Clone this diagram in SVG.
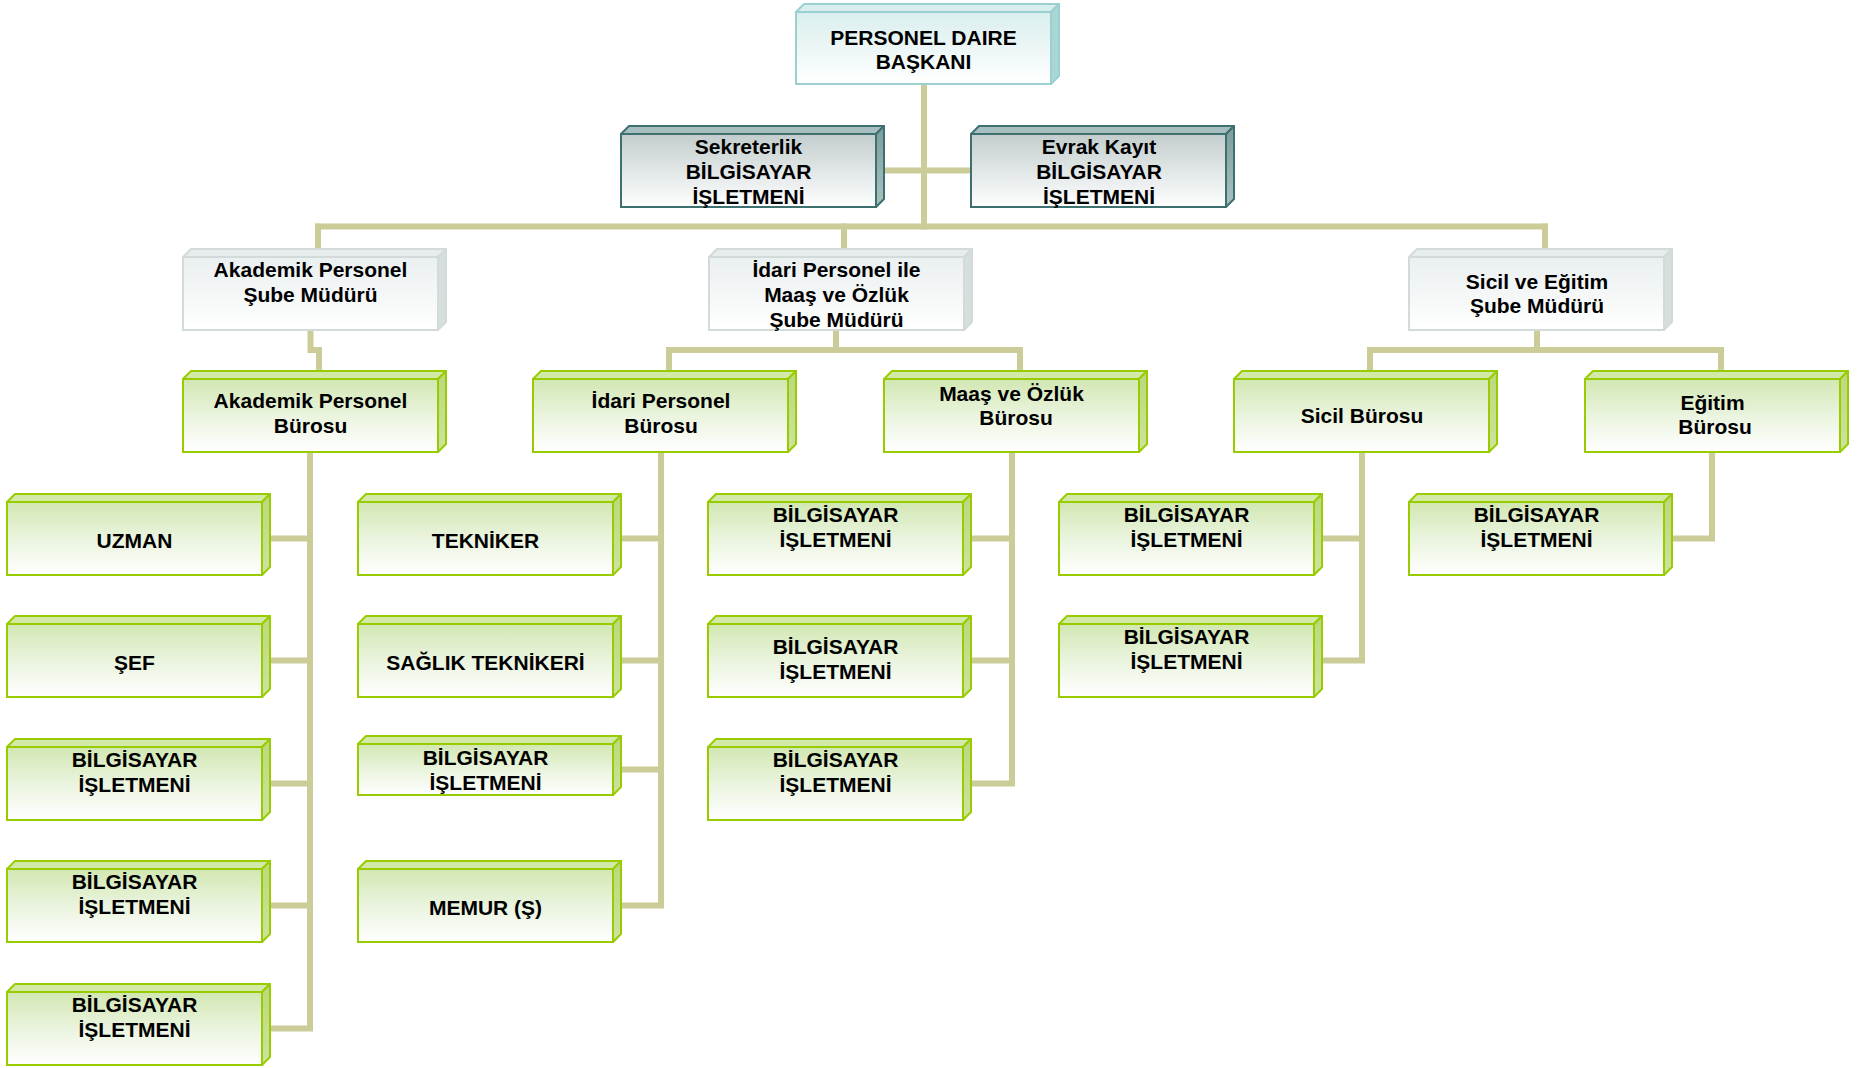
<svg xmlns="http://www.w3.org/2000/svg" xmlns:xlink="http://www.w3.org/1999/xlink" width="1862" height="1068" viewBox="0 0 1862 1068">
<style>
.c{fill:none;stroke:#CCCC99;stroke-width:6;stroke-linecap:square;stroke-linejoin:miter}
.t{font-family:"Liberation Sans",Arial,sans-serif;font-weight:bold;font-size:21px;text-anchor:middle;fill:#000}
.gf{fill:url(#gradGreen);stroke:#99CC00;stroke-width:2}
.gt{fill:#D3E9A8;stroke:#99CC00;stroke-width:2;stroke-linejoin:round}
.gs{fill:url(#gradGreenSide);stroke:#99CC00;stroke-width:2;stroke-linejoin:round}
.tf{fill:url(#gradTeal);stroke:#9CCFCF;stroke-width:2}
.tt{fill:#D8EEEE;stroke:#9CCFCF;stroke-width:2;stroke-linejoin:round}
.ts{fill:#AAD6D6;stroke:#9CCFCF;stroke-width:2;stroke-linejoin:round}
.df{fill:url(#gradDark);stroke:#3F7070;stroke-width:2}
.dt{fill:#A7BEBE;stroke:#3F7070;stroke-width:2;stroke-linejoin:round}
.ds{fill:url(#gradDarkSide);stroke:#3F7070;stroke-width:2;stroke-linejoin:round}
.sf{fill:url(#gradGrey);stroke:#D2DADA;stroke-width:2}
.st{fill:#E7ECEC;stroke:#D2DADA;stroke-width:2;stroke-linejoin:round}
.ss{fill:#D6DEDE;stroke:#D2DADA;stroke-width:2;stroke-linejoin:round}
</style>
<defs>
<linearGradient id="gradGreen" x1="0" y1="0" x2="0" y2="1">
<stop offset="0" stop-color="#D2E7B2"/><stop offset="0.5" stop-color="#EAF4DE"/><stop offset="1" stop-color="#FFFFFF"/>
</linearGradient>
<linearGradient id="gradGreenSide" x1="0" y1="0" x2="0" y2="1">
<stop offset="0" stop-color="#BBD87C"/><stop offset="1" stop-color="#CDE3A0"/>
</linearGradient>
<linearGradient id="gradTeal" x1="0" y1="0" x2="0" y2="1">
<stop offset="0" stop-color="#DAEEEE"/><stop offset="1" stop-color="#FFFFFF"/>
</linearGradient>
<linearGradient id="gradDark" x1="0" y1="0" x2="0" y2="1">
<stop offset="0" stop-color="#C3CDCD"/><stop offset="1" stop-color="#FFFFFF"/>
</linearGradient>
<linearGradient id="gradDarkSide" x1="0" y1="0" x2="0" y2="1">
<stop offset="0" stop-color="#7C9C9C"/><stop offset="1" stop-color="#A9C2C2"/>
</linearGradient>
<linearGradient id="gradGrey" x1="0" y1="0" x2="0" y2="1">
<stop offset="0" stop-color="#EAEFEF"/><stop offset="1" stop-color="#FFFFFF"/>
</linearGradient>
<g id="boxGreen">
<polygon class="gt" points="0,0 8,-8 263,-8 255,0"/>
<polygon class="gs" points="255,0 263,-8 263,65 255,73"/>
<rect class="gf" x="0" y="0" width="255" height="73"/>
</g>
<g id="boxGreenShort">
<polygon class="gt" points="0,0 8,-8 263,-8 255,0"/>
<polygon class="gs" points="255,0 263,-8 263,43 255,51"/>
<rect class="gf" x="0" y="0" width="255" height="51"/>
</g>
<g id="boxTeal">
<polygon class="tt" points="0,0 8,-8 263,-8 255,0"/>
<polygon class="ts" points="255,0 263,-8 263,64 255,72"/>
<rect class="tf" x="0" y="0" width="255" height="72"/>
</g>
<g id="boxDark">
<polygon class="dt" points="0,0 8,-8 263,-8 255,0"/>
<polygon class="ds" points="255,0 263,-8 263,65 255,73"/>
<rect class="df" x="0" y="0" width="255" height="73"/>
</g>
<g id="boxGrey">
<polygon class="st" points="0,0 8,-8 263,-8 255,0"/>
<polygon class="ss" points="255,0 263,-8 263,65 255,73"/>
<rect class="sf" x="0" y="0" width="255" height="73"/>
</g>
</defs>
<rect x="0" y="0" width="1862" height="1068" fill="#FFFFFF"/>
<g id="connectors">
<path class="c" d="M924,84 V226.5"/>
<path class="c" d="M876,170.5 H971"/>
<path class="c" d="M318,226.5 H1545"/>
<path class="c" d="M318,226.5 V249"/>
<path class="c" d="M844,226.5 V249"/>
<path class="c" d="M1545,226.5 V249"/>
<path class="c" d="M310.5,330 V350 H319 V371"/>
<path class="c" d="M836,330 V350"/>
<path class="c" d="M669,371 V350 H1020 V371"/>
<path class="c" d="M1537,330 V350"/>
<path class="c" d="M1370,371 V350 H1721 V371"/>
<path class="c" d="M310,452 V1028.5 H262"/>
<path class="c" d="M262,538.5 H310 M262,660.5 H310 M262,783.5 H310 M262,905.5 H310"/>
<path class="c" d="M661,452 V905.5 H613"/>
<path class="c" d="M613,538.5 H661 M613,660.5 H661 M613,769.5 H661"/>
<path class="c" d="M1012,452 V783.5 H963"/>
<path class="c" d="M963,538.5 H1012 M963,660.5 H1012"/>
<path class="c" d="M1362,452 V660.5 H1314"/>
<path class="c" d="M1314,538.5 H1362"/>
<path class="c" d="M1712,452 V538.5 H1664"/>
</g>
<g id="n-baskan"><use xlink:href="#boxTeal" x="796" y="12"/><text class="t" x="923.5" y="45">PERSONEL DAIRE</text><text class="t" x="923.5" y="69">BAŞKANI</text></g>
<g id="n-sekreterlik"><use xlink:href="#boxDark" x="621" y="134"/><text class="t" x="748.5" y="154">Sekreterlik</text><text class="t" x="748.5" y="179">BİLGİSAYAR</text><text class="t" x="748.5" y="204">İŞLETMENİ</text></g>
<g id="n-evrak"><use xlink:href="#boxDark" x="971" y="134"/><text class="t" x="1099" y="154">Evrak Kayıt</text><text class="t" x="1099" y="179">BİLGİSAYAR</text><text class="t" x="1099" y="204">İŞLETMENİ</text></g>
<g id="n-akad-sube"><use xlink:href="#boxGrey" x="183" y="257"/><text class="t" x="310.5" y="277">Akademik Personel</text><text class="t" x="310.5" y="302">Şube Müdürü</text></g>
<g id="n-idari-sube"><use xlink:href="#boxGrey" x="709" y="257"/><text class="t" x="836.5" y="277">İdari Personel ile</text><text class="t" x="836.5" y="302">Maaş ve Özlük</text><text class="t" x="836.5" y="327">Şube Müdürü</text></g>
<g id="n-sicil-sube"><use xlink:href="#boxGrey" x="1409" y="257"/><text class="t" x="1537" y="289">Sicil ve Eğitim</text><text class="t" x="1537" y="313">Şube Müdürü</text></g>
<g id="n-akad-buro"><use xlink:href="#boxGreen" x="183" y="379"/><text class="t" x="310.5" y="408">Akademik Personel</text><text class="t" x="310.5" y="433">Bürosu</text></g>
<g id="n-idari-buro"><use xlink:href="#boxGreen" x="533" y="379"/><text class="t" x="661" y="408">İdari Personel</text><text class="t" x="661" y="433">Bürosu</text></g>
<g id="n-maas-buro"><use xlink:href="#boxGreen" x="884" y="379"/><text class="t" x="1011.5" y="401">Maaş ve Özlük</text><text class="t" x="1016" y="425">Bürosu</text></g>
<g id="n-sicil-buro"><use xlink:href="#boxGreen" x="1234" y="379"/><text class="t" x="1362" y="423">Sicil Bürosu</text></g>
<g id="n-egitim-buro"><use xlink:href="#boxGreen" x="1585" y="379"/><text class="t" x="1712.5" y="410">Eğitim</text><text class="t" x="1715" y="434">Bürosu</text></g>
<g id="n-uzman"><use xlink:href="#boxGreen" x="7" y="502"/><text class="t" x="134.5" y="548">UZMAN</text></g>
<g id="n-sef"><use xlink:href="#boxGreen" x="7" y="624"/><text class="t" x="134.5" y="670">ŞEF</text></g>
<g id="n-c1-r3"><use xlink:href="#boxGreen" x="7" y="747"/><text class="t" x="134.5" y="766.5">BİLGİSAYAR</text><text class="t" x="134.5" y="792">İŞLETMENİ</text></g>
<g id="n-c1-r4"><use xlink:href="#boxGreen" x="7" y="869"/><text class="t" x="134.5" y="888.5">BİLGİSAYAR</text><text class="t" x="134.5" y="914">İŞLETMENİ</text></g>
<g id="n-c1-r5"><use xlink:href="#boxGreen" x="7" y="992"/><text class="t" x="134.5" y="1011.5">BİLGİSAYAR</text><text class="t" x="134.5" y="1037">İŞLETMENİ</text></g>
<g id="n-tekniker"><use xlink:href="#boxGreen" x="358" y="502"/><text class="t" x="485.5" y="548">TEKNİKER</text></g>
<g id="n-saglik"><use xlink:href="#boxGreen" x="358" y="624"/><text class="t" x="485.5" y="670">SAĞLIK TEKNİKERİ</text></g>
<g id="n-c2-r3"><use xlink:href="#boxGreenShort" x="358" y="744"/><text class="t" x="485.5" y="765">BİLGİSAYAR</text><text class="t" x="485.5" y="790">İŞLETMENİ</text></g>
<g id="n-memur"><use xlink:href="#boxGreen" x="358" y="869"/><text class="t" x="485.5" y="915">MEMUR (Ş)</text></g>
<g id="n-c3-r1"><use xlink:href="#boxGreen" x="708" y="502"/><text class="t" x="835.5" y="521.5">BİLGİSAYAR</text><text class="t" x="835.5" y="547">İŞLETMENİ</text></g>
<g id="n-c3-r2"><use xlink:href="#boxGreen" x="708" y="624"/><text class="t" x="835.5" y="654">BİLGİSAYAR</text><text class="t" x="835.5" y="679">İŞLETMENİ</text></g>
<g id="n-c3-r3"><use xlink:href="#boxGreen" x="708" y="747"/><text class="t" x="835.5" y="766.5">BİLGİSAYAR</text><text class="t" x="835.5" y="792">İŞLETMENİ</text></g>
<g id="n-c4-r1"><use xlink:href="#boxGreen" x="1059" y="502"/><text class="t" x="1186.5" y="521.5">BİLGİSAYAR</text><text class="t" x="1186.5" y="547">İŞLETMENİ</text></g>
<g id="n-c4-r2"><use xlink:href="#boxGreen" x="1059" y="624"/><text class="t" x="1186.5" y="643.5">BİLGİSAYAR</text><text class="t" x="1186.5" y="669">İŞLETMENİ</text></g>
<g id="n-c5-r1"><use xlink:href="#boxGreen" x="1409" y="502"/><text class="t" x="1536.5" y="521.5">BİLGİSAYAR</text><text class="t" x="1536.5" y="547">İŞLETMENİ</text></g>
</svg>
